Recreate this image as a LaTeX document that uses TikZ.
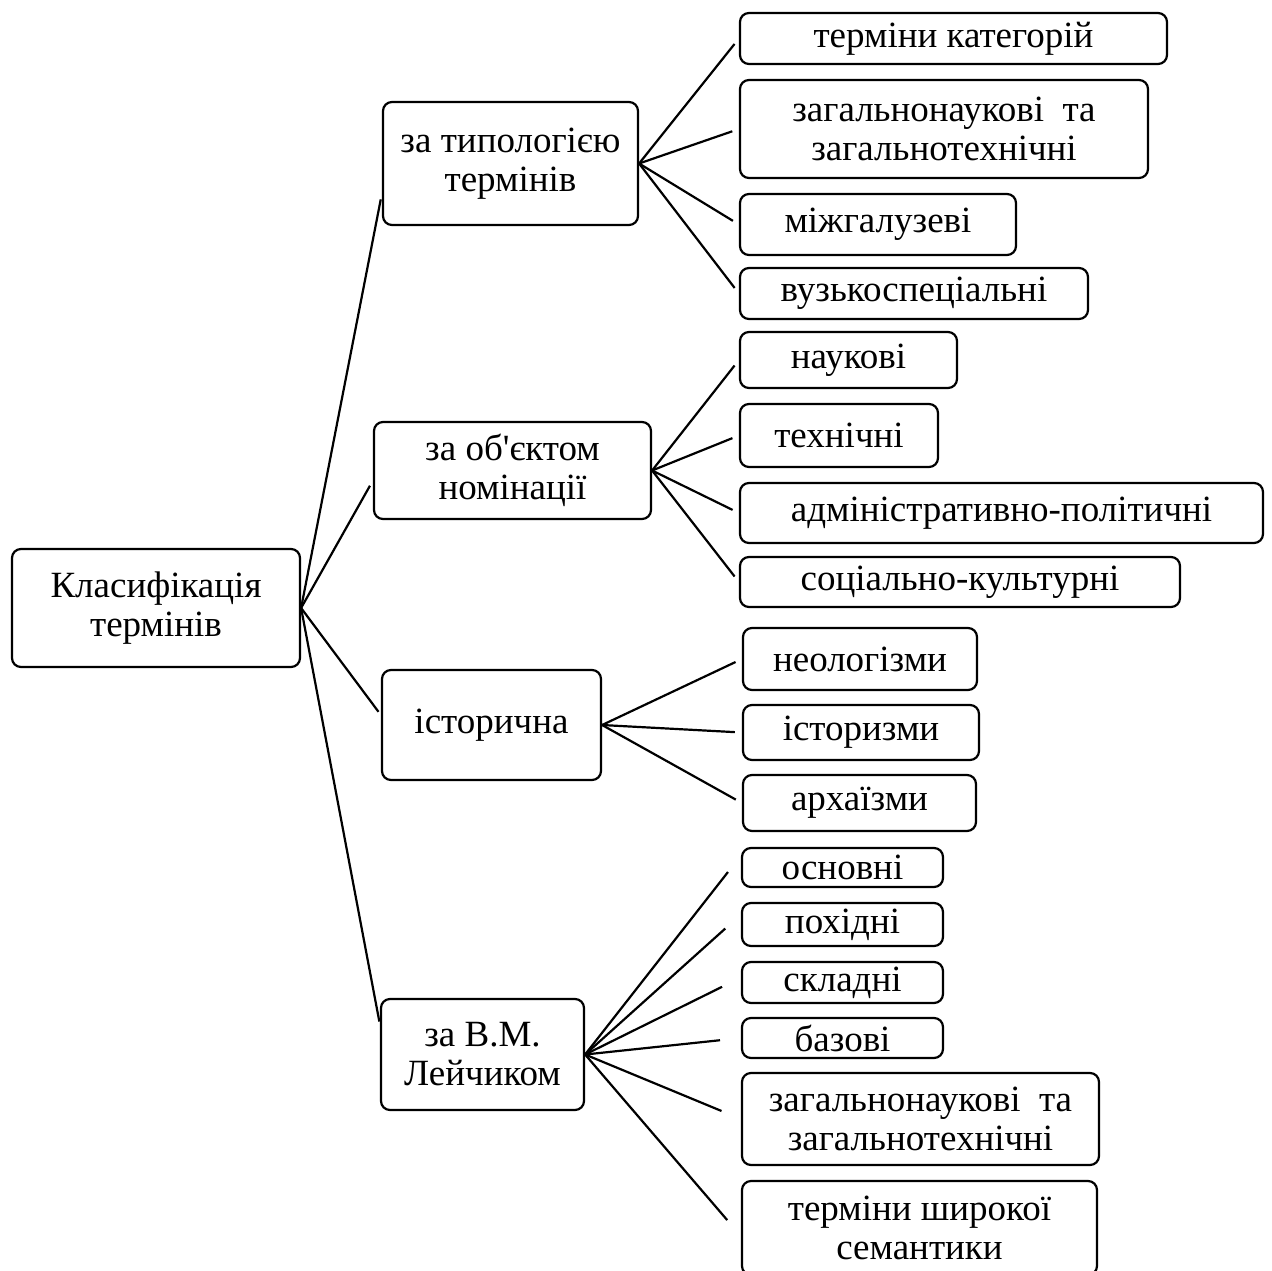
\documentclass[tikz,border=0pt]{standalone}
\usepackage{fontspec}
\setmainfont{Liberation Serif}[Ligatures=TeXOff]
\tikzset{
  box/.style={draw, rounded corners=9pt, line width=2.2pt, align=center,
    inner sep=0pt, font=\fontsize{37}{39}\selectfont},
  link/.style={line width=2.2pt, shorten >=7pt},
}
\begin{document}
\begin{tikzpicture}[x=1pt, y=-1pt]
    \useasboundingbox (0,0) rectangle (1272,1270);

    % корінь
    \node[box, minimum width=288pt, minimum height=118pt] (root) at (156,608) {Класифікація\\термінів};

    % другий рівень
    \node[box, minimum width=255pt, minimum height=123pt] (typ) at (510.5,163.5) {за типологією\\термінів};
    \node[box, minimum width=277pt, minimum height=97pt] (obj) at (512.5,470.5) {за об'єктом\\номінації};
    \node[box, minimum width=219pt, minimum height=110pt] (hist) at (491.5,725) {історична};
    \node[box, minimum width=203pt, minimum height=111pt] (lei) at (482.5,1054.5) {за В.М.\\Лейчиком};

    \draw[link, shorten >=6pt] (root.east) -- ([yshift=-30pt]typ.west);
    \draw[link, shorten >=6pt] (root.east) -- ([yshift=-10pt]obj.west);
    \draw[link, shorten >=4pt] (root.east) -- ([yshift=10pt]hist.west);
    \draw[link, shorten >=3pt] (root.east) -- ([yshift=30pt]lei.west);

    % за типологією
    \node[box, minimum width=427pt, minimum height=51pt] (t1) at (953.5,38.5) {терміни категорій};
    \node[box, minimum width=408pt, minimum height=98pt] (t2) at (944,129) {загальнонаукові~ та\\загальнотехнічні};
    \node[box, minimum width=276pt, minimum height=61pt] (t3) at (878,224.5) {міжгалузеві};
    \node[box, minimum width=348pt, minimum height=51pt] (t4) at (914,293.5) {вузькоспеціальні};

    \draw[link] (typ.east) -- (t1.west);
    \draw[link] (typ.east) -- (t2.west);
    \draw[link] (typ.east) -- (t3.west);
    \draw[link] (typ.east) -- (t4.west);

    % за об'єктом
    \node[box, minimum width=217pt, minimum height=56pt] (o1) at (848.5,360) {наукові};
    \node[box, minimum width=198pt, minimum height=63pt] (o2) at (839,435.5) {технічні};
    \node[box, minimum width=523pt, minimum height=60pt] (o3) at (1001.5,513) {адміністративно-політичні};
    \node[box, minimum width=440pt, minimum height=50pt] (o4) at (960,582) {соціально-культурні};

    \draw[link] (obj.east) -- (o1.west);
    \draw[link] (obj.east) -- (o2.west);
    \draw[link] (obj.east) -- (o3.west);
    \draw[link] (obj.east) -- (o4.west);

    % історична
    \node[box, minimum width=234pt, minimum height=62pt] (h1) at (860,659) {неологізми};
    \node[box, minimum width=236pt, minimum height=55pt] (h2) at (861,732.5) {історизми};
    \node[box, minimum width=233pt, minimum height=56pt] (h3) at (859.5,803) {архаїзми};

    \draw[link] (hist.east) -- (h1.west);
    \draw[link] (hist.east) -- (h2.west);
    \draw[link] (hist.east) -- (h3.west);

    % за Лейчиком
    \node[box, minimum width=201pt, minimum height=39pt] (l1) at (842.5,867.5) {основні};
    \node[box, minimum width=201pt, minimum height=43pt] (l2) at (842.5,924.5) {похідні};
    \node[box, minimum width=201pt, minimum height=41pt] (l3) at (842.5,982.5) {складні};
    \node[box, minimum width=201pt, minimum height=40pt] (l4) at (842.5,1038) {базові};
    \node[box, minimum width=357pt, minimum height=92pt] (l5) at (920.5,1119) {загальнонаукові~ та\\загальнотехнічні};
    \node[box, minimum width=355pt, minimum height=94pt] (l6) at (919.5,1228) {терміни широкої\\семантики};

    \draw[link, shorten >=21pt] (lei.east) -- ([yshift=12pt]l1.west);
    \draw[link, shorten >=21pt] (lei.east) -- ([yshift=10pt]l2.west);
    \draw[link, shorten >=21pt] (lei.east) -- ([yshift=5pt]l3.west);
    \draw[link, shorten >=21pt] (lei.east) -- (l4.west);
    \draw[link, shorten >=21pt] (lei.east) -- (l5.west);
    \draw[link, shorten >=21pt] (lei.east) -- ([yshift=-8pt]l6.west);
\end{tikzpicture}
\end{document}
